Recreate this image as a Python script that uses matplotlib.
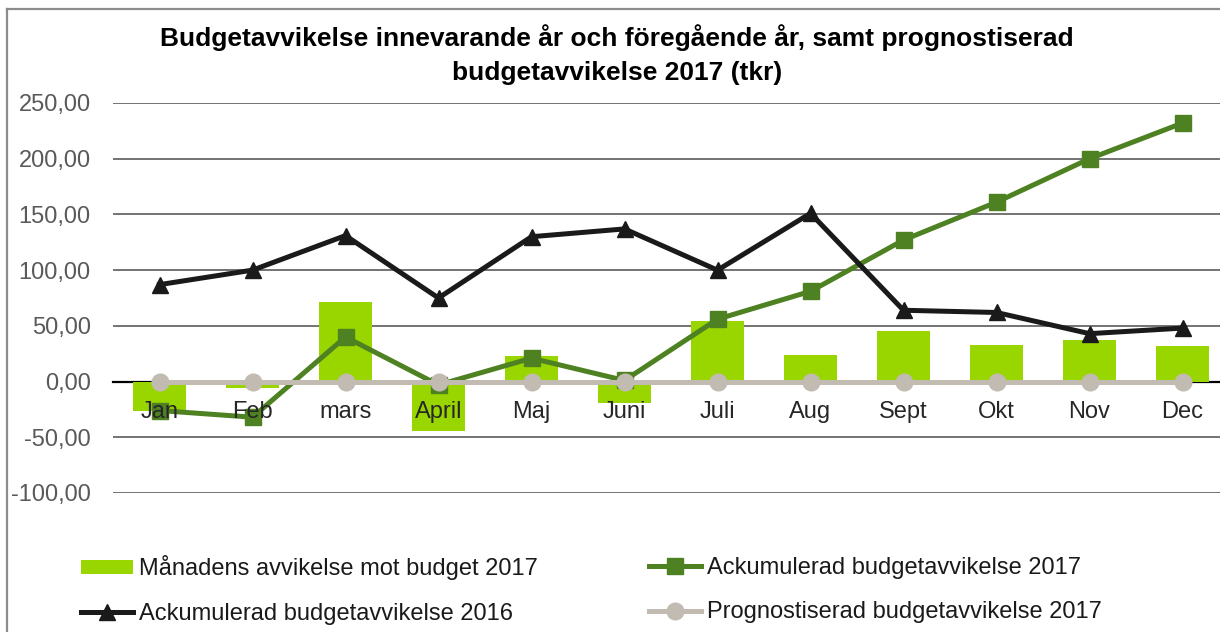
import matplotlib
matplotlib.use("Agg")
import matplotlib.pyplot as plt
from matplotlib.lines import Line2D
import numpy as np

months = ["Jan", "Feb", "mars", "April", "Maj", "Juni", "Juli", "Aug", "Sept", "Okt", "Nov", "Dec"]
monthly_2017 = [-26, -6, 71, -44, 23, -19, 54, 24, 45, 33, 37, 32]
acc_2017 = [-26, -32, 40, -3, 21, 1, 56, 81, 127, 161, 200, 232]
acc_2016 = [87, 100, 131, 75, 130, 137, 100, 151, 64, 62, 43, 48]
forecast_2017 = [0, 0, 0, 0, 0, 0, 0, 0, 0, 0, 0, 0]
yticks = [-100, -50, 0, 50, 100, 150, 200, 250]

title = ("Budgetavvikelse innevarande år och föregående år, samt prognostiserad\n"
         "budgetavvikelse 2017 (tkr)")
lbl_bar = "Månadens avvikelse mot budget 2017"
lbl_acc17 = "Ackumulerad budgetavvikelse 2017"
lbl_acc16 = "Ackumulerad budgetavvikelse 2016"
lbl_fc = "Prognostiserad budgetavvikelse 2017"

plt.rcParams['font.family'] = ['Liberation Sans', 'DejaVu Sans']

W, H = 1220, 632
fig = plt.figure(figsize=(W / 100, H / 100), dpi=100)
ax = fig.add_axes([113 / W, (H - 493) / H, (1229 - 113) / W, 390 / H])

x = np.arange(len(months))
c_bar = '#99d600'
c_g = '#4e8121'
c_k = '#1a1a1a'
c_fc = '#c2bbb2'

bars = ax.bar(x, monthly_2017, width=0.57, color=c_bar, zorder=2)
l17, = ax.plot(x, acc_2017, color=c_g, lw=3.6, marker='s', ms=11.5, zorder=3)
l16, = ax.plot(x, acc_2016, color=c_k, lw=3.6, marker='^', ms=12, zorder=4)
lfc, = ax.plot(x, forecast_2017, color=c_fc, lw=3.6, marker='o', ms=12, zorder=5)

ax.set_xlim(-0.5, len(months) - 0.5)
ax.set_ylim(-100, 250)
ax.set_yticks(yticks)
ax.set_yticklabels([f"{v:.2f}".replace('.', ',') for v in yticks])
ax.yaxis.grid(True, color='#737373', lw=1.4, zorder=0)
ax.set_axisbelow(True)
for s in ['top', 'right', 'left']:
    ax.spines[s].set_visible(False)
ax.spines['bottom'].set_position(('data', 0))
ax.spines['bottom'].set_color('black')
ax.spines['bottom'].set_linewidth(1.6)
ax.spines['bottom'].set_zorder(1)
ax.set_xticks(x)
ax.set_xticklabels([])
ax.tick_params(axis='x', length=0)
ax.tick_params(axis='y', length=0, pad=16, labelsize=17, labelcolor='#595959')

# month labels drawn on top of the bars (as in the reference)
for xi, m in zip(x, months):
    ax.annotate(m, xy=(xi, 0), xytext=(0, -14), textcoords='offset points',
                ha='center', va='top', fontsize=17, color='#262626', zorder=10,
                annotation_clip=False)

fig.text(617 / W, 1 - 55 / H, title, ha='center', va='center', fontsize=19,
         fontweight='bold', linespacing=1.53, color='black')

# frame lines
fig.add_artist(Line2D([7 / W, 7 / W], [0, 1 - 9 / H], transform=fig.transFigure,
                      color='#8c8c8c', lw=1.6))
fig.add_artist(Line2D([7 / W, 1], [1 - 9 / H, 1 - 9 / H], transform=fig.transFigure,
                      color='#8c8c8c', lw=1.6))

common = dict(loc='center left', frameon=False, fontsize=17, borderpad=0,
              borderaxespad=0, handlelength=2.2, handletextpad=0.25,
              labelspacing=0.97, handleheight=0.55)
leg1 = fig.legend([bars, l16], [lbl_bar, lbl_acc16],
                  bbox_to_anchor=(81 / W, 1 - 590 / H), **common)
leg2 = fig.legend([l17, lfc], [lbl_acc17, lbl_fc],
                  bbox_to_anchor=(649 / W, 1 - 590 / H), **common)
for t in leg1.get_texts() + leg2.get_texts():
    t.set_color('#1a1a1a')

fig.savefig("out.png", dpi=100)
